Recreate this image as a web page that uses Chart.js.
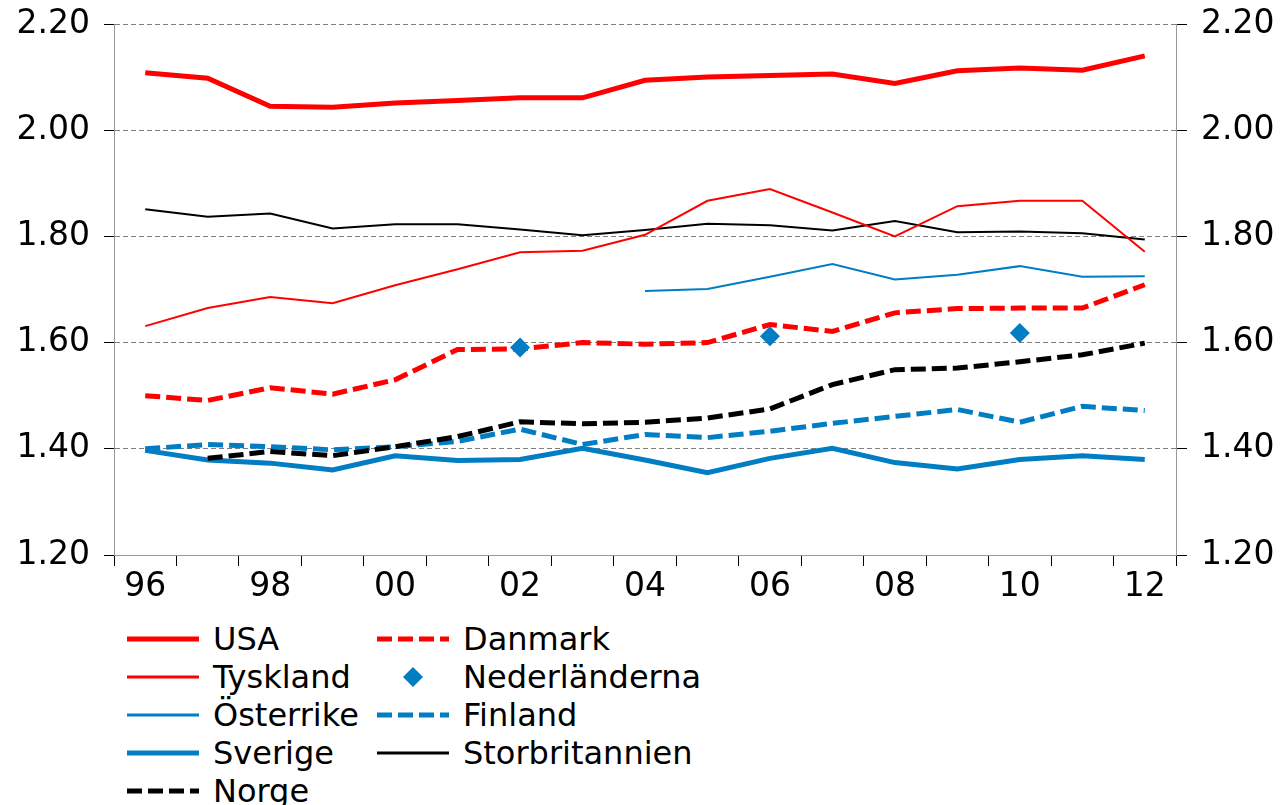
<!DOCTYPE html>
<html>
<head>
<meta charset="utf-8">
<script src="https://cdn.jsdelivr.net/npm/chart.js@4/dist/chart.umd.min.js"></script>
<style>
  html, body { margin: 0; padding: 0; background: #fff; }
  #wrap { position: relative; width: 1280px; height: 805px; overflow: hidden; }
  #chartBox { position: absolute; left: 0; top: 0; width: 1280px; height: 610px; }
  #legend { position: absolute; left: 127px; top: 620px; font-family: "DejaVu Sans", Verdana, sans-serif; font-size: 32px; color: #000; }
  .item { position: absolute; height: 38px; display: flex; align-items: center; white-space: nowrap; }
  .item svg { margin-right: 14px; }
</style>
</head>
<body>
<div id="wrap">
  <div id="chartBox"><canvas id="myChart"></canvas></div>
  <div id="legend"></div>
</div>
<script>
// years 1996-2012, only every other one is labelled
const years = ['96', '97', '98', '99', '00', '01', '02', '03', '04', '05', '06', '07', '08', '09', '10', '11', '12'];
const yTicks = [1.20, 1.40, 1.60, 1.80, 2.00, 2.20];

const usa = [2.108, 2.098, 2.045, 2.043, 2.051, 2.056, 2.061, 2.061, 2.094, 2.100, 2.103, 2.106, 2.088, 2.112, 2.117, 2.113, 2.140];
const tyskland = [1.631, 1.665, 1.686, 1.674, 1.708, 1.738, 1.770, 1.773, 1.803, 1.867, 1.889, 1.845, 1.800, 1.857, 1.867, 1.867, 1.771];
const osterrike = [null, null, null, null, null, null, null, null, 1.697, 1.701, 1.724, 1.748, 1.719, 1.728, 1.744, 1.724, 1.725];
const sverige = [1.397, 1.379, 1.373, 1.360, 1.387, 1.378, 1.380, 1.401, 1.379, 1.355, 1.382, 1.401, 1.374, 1.362, 1.380, 1.387, 1.380];
const norge = [null, 1.382, 1.395, 1.387, 1.404, 1.423, 1.451, 1.447, 1.450, 1.458, 1.475, 1.521, 1.549, 1.552, 1.564, 1.577, 1.599];
const danmark = [1.500, 1.491, 1.515, 1.503, 1.530, 1.587, 1.588, 1.600, 1.597, 1.600, 1.634, 1.621, 1.656, 1.664, 1.665, 1.665, 1.709];
const nederlanderna = [null, null, null, null, null, null, 1.591, null, null, null, 1.612, null, null, null, 1.618, null, null];
const finland = [1.400, 1.408, 1.404, 1.398, 1.404, 1.414, 1.437, 1.408, 1.427, 1.421, 1.433, 1.448, 1.461, 1.474, 1.450, 1.480, 1.472];
const storbritannien = [1.851, 1.837, 1.843, 1.815, 1.823, 1.823, 1.813, 1.802, 1.812, 1.824, 1.821, 1.811, 1.829, 1.808, 1.809, 1.806, 1.794];

const RED = '#ff0000';
const BLUE = '#007dc3';
const BLACK = '#000000';
const DASH = [15, 6];
const FONT = 'DejaVu Sans';
const AXIS_SIZE = 33;

// legend order is row by row, two columns
const series = [
  { label: 'USA', data: usa, color: RED, width: 5, dash: [] },
  { label: 'Danmark', data: danmark, color: RED, width: 5, dash: DASH },
  { label: 'Tyskland', data: tyskland, color: RED, width: 2, dash: [] },
  { label: 'Nederländerna', data: nederlanderna, color: BLUE, width: 0, dash: [], marker: true },
  { label: 'Österrike', data: osterrike, color: BLUE, width: 2, dash: [] },
  { label: 'Finland', data: finland, color: BLUE, width: 5, dash: DASH },
  { label: 'Sverige', data: sverige, color: BLUE, width: 5, dash: [] },
  { label: 'Storbritannien', data: storbritannien, color: BLACK, width: 2, dash: [] },
  { label: 'Norge', data: norge, color: BLACK, width: 5, dash: DASH }
];

// lowest order is drawn on top
const drawOrder = { 'Nederländerna': 0, 'Norge': 1, 'Danmark': 2, 'Finland': 3, 'Sverige': 4, 'USA': 5, 'Tyskland': 6, 'Storbritannien': 7, 'Österrike': 8 };

const datasets = series.map(s => ({
  label: s.label,
  data: s.data,
  borderColor: s.color,
  backgroundColor: s.color,
  borderWidth: s.width,
  borderDash: s.dash,
  borderCapStyle: 'butt',
  borderJoinStyle: 'miter',
  showLine: !s.marker,
  pointStyle: s.marker ? 'rectRot' : 'circle',
  pointRadius: s.marker ? 10 : 0,
  pointBorderWidth: 0,
  tension: 0,
  spanGaps: false,
  order: drawOrder[s.label]
}));

// fixed axis width, no extra room for the end labels
function fixY(scale, w) {
  scale.width = w;
  scale.paddingTop = 0;
  scale.paddingBottom = 0;
}

const ctx = document.getElementById('myChart');

const chart = new Chart(ctx, {
  type: 'line',
  data: { labels: years, datasets: datasets },
  options: {
    responsive: true,
    maintainAspectRatio: false,
    animation: false,
    layout: { padding: { top: 24, left: 0, right: 0, bottom: 0 } },
    plugins: { legend: { display: false }, tooltip: { enabled: false } },
    scales: {
      x: {
        offset: true,
        grid: { offset: true, drawOnChartArea: false, drawTicks: true, tickLength: 11, color: '#000', lineWidth: 1 },
        border: { display: true, color: '#999', width: 1 },
        ticks: {
          autoSkip: false, maxRotation: 0, padding: 2, color: '#000',
          font: { family: FONT, size: AXIS_SIZE },
          callback: function (val, i) { return i % 2 === 0 ? years[i] : ''; }
        },
        afterFit: function (scale) { scale.height = 55; }
      },
      y: {
        position: 'left', min: 1.2, max: 2.2,
        afterBuildTicks: function (scale) { scale.ticks = yTicks.map(v => ({ value: v })); },
        grid: { color: '#7f7f7f', lineWidth: 1, tickLength: 10, tickColor: '#000', drawTicks: true, tickBorderDash: [] },
        border: { display: true, color: '#999', width: 1, dash: [5, 3] },
        ticks: { padding: 14, color: '#000', font: { family: FONT, size: AXIS_SIZE }, callback: v => v.toFixed(2) },
        afterFit: function (scale) { fixY(scale, 114); }
      },
      y2: {
        position: 'right', min: 1.2, max: 2.2,
        afterBuildTicks: function (scale) { scale.ticks = yTicks.map(v => ({ value: v })); },
        grid: { drawOnChartArea: true, color: 'rgba(0,0,0,0)', tickColor: '#000', tickLength: 11 },
        border: { display: true, color: '#999', width: 1 },
        ticks: { padding: 14, color: '#000', font: { family: FONT, size: AXIS_SIZE }, callback: v => v.toFixed(2) },
        afterFit: function (scale) { fixY(scale, 104); }
      }
    }
  }
});

/**** LEGEND ****/
const legend = document.getElementById('legend');
series.forEach((s, i) => {
  const item = document.createElement('div');
  item.className = 'item';
  item.style.left = (i % 2 === 0 ? 0 : 250) + 'px';
  item.style.top = (Math.floor(i / 2) * 38) + 'px';
  let sample;
  if (s.marker) {
    sample = `<svg width="72" height="20"><polygon points="36,0 46,10 36,20 26,10" fill="${s.color}"/></svg>`;
  } else {
    const w = s.width === 2 ? 3 : s.width;
    sample = `<svg width="72" height="10"><line x1="0" y1="5" x2="72" y2="5" stroke="${s.color}" stroke-width="${w}" stroke-dasharray="${s.dash.join(',')}"/></svg>`;
  }
  item.innerHTML = sample + '<span>' + s.label + '</span>';
  legend.appendChild(item);
});
</script>
</body>
</html>
